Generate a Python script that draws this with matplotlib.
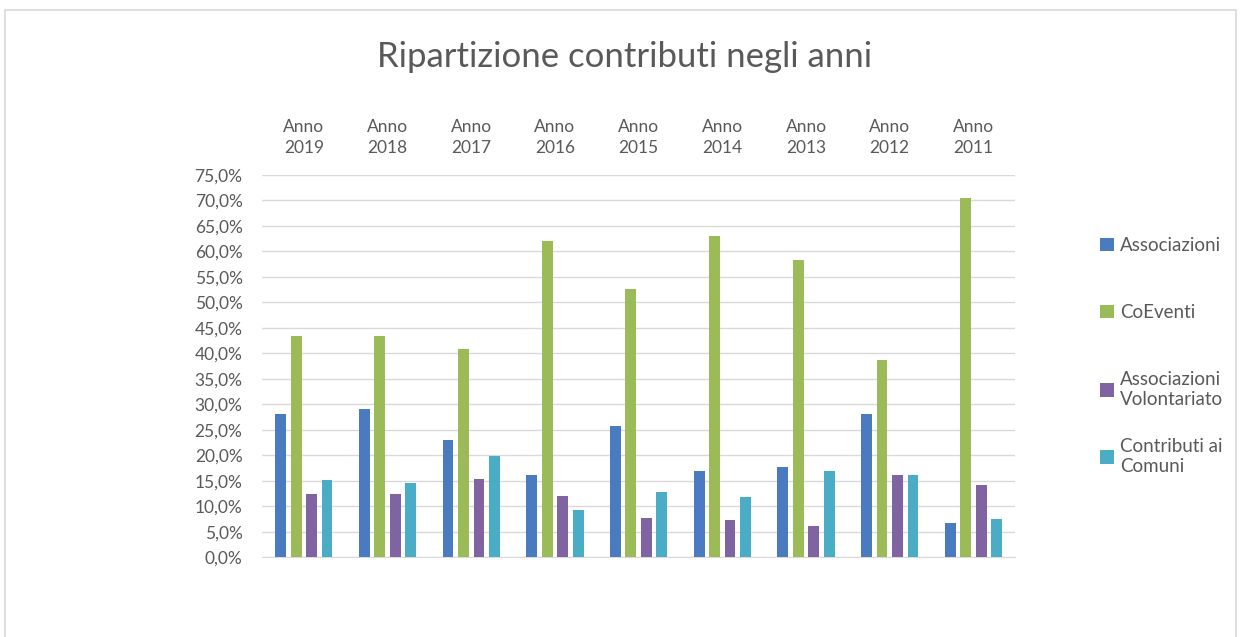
import numpy as np
import matplotlib
matplotlib.use('Agg')
import matplotlib.pyplot as plt
from matplotlib.patches import Rectangle
from matplotlib.ticker import FuncFormatter, MultipleLocator

# Dati (valori in %)
anni = ['Anno\n2019', 'Anno\n2018', 'Anno\n2017', 'Anno\n2016', 'Anno\n2015',
        'Anno\n2014', 'Anno\n2013', 'Anno\n2012', 'Anno\n2011']
associazioni = [28.2, 29.0, 23.0, 16.1, 25.8, 16.9, 17.7, 28.2, 6.7]
coeventi = [43.4, 43.4, 40.9, 62.0, 52.6, 63.1, 58.3, 38.8, 70.5]
volontariato = [12.4, 12.4, 15.4, 12.1, 7.8, 7.4, 6.2, 16.1, 14.2]
comuni = [15.2, 14.6, 19.9, 9.2, 12.9, 11.8, 16.9, 16.1, 7.6]

serie = ['Associazioni', 'CoEventi', 'Associazioni\nVolontariato', 'Contributi ai\nComuni']
colori = ['#4A7BC1', '#9BBB59', '#8064A2', '#4BACC6']

plt.rcParams['font.family'] = ['Lato', 'DejaVu Sans']
grigio = '#595959'

fig = plt.figure(figsize=(12.41, 6.37), dpi=100)
ax = fig.add_axes([0.2111, 0.1251, 0.607, 0.6002])

x = np.arange(len(anni))
w = 0.13
step = 0.185
valori = [associazioni, coeventi, volontariato, comuni]
barre = []
for i, (v, c, lab) in enumerate(zip(valori, colori, serie)):
    b = ax.bar(x + (i - 1.5) * step, v, width=w, color=c, label=lab, zorder=3)
    barre.append(b)

ax.set_ylim(0, 75)
ax.set_xlim(-0.5, len(anni) - 0.5)
ax.yaxis.set_major_locator(MultipleLocator(5))
ax.yaxis.set_major_formatter(FuncFormatter(lambda v, p: f'{v:.1f}%'.replace('.', ',')))
ax.grid(axis='y', color='#d9d9d9', linewidth=1, zorder=0)
ax.set_xticks(x)
ax.set_xticklabels(anni, linespacing=1.35)
ax.xaxis.tick_top()
ax.tick_params(axis='x', length=0, pad=14, labelsize=12.5, colors=grigio)
ax.tick_params(axis='y', length=0, pad=14, labelsize=12.5, colors=grigio)
for s in ['top', 'left', 'right']:
    ax.spines[s].set_visible(False)
ax.spines['bottom'].set_color('#d9d9d9')

fig.text(0.503, 0.9105, 'Ripartizione contributi negli anni', ha='center', va='center',
         fontsize=25, color=grigio)

# legenda: una voce per riga, righe equidistanti come in Excel
y_top = [237, 304, 371, 438]
for b, lab, yt in zip(barre, serie, y_top):
    fig.legend([b], [lab], loc='upper left', bbox_to_anchor=(1100 / 1241, 1 - yt / 637),
               frameon=False, fontsize=13.5, borderpad=0, borderaxespad=0,
               handlelength=0.75, handleheight=0.75, handletextpad=0.3,
               labelcolor=grigio, labelspacing=0)

fig.add_artist(Rectangle((0.004, -0.01), 0.992, 0.994, transform=fig.transFigure,
                         fill=False, edgecolor='#d9d9d9', linewidth=1.2))

plt.savefig('out.png', dpi=100)
